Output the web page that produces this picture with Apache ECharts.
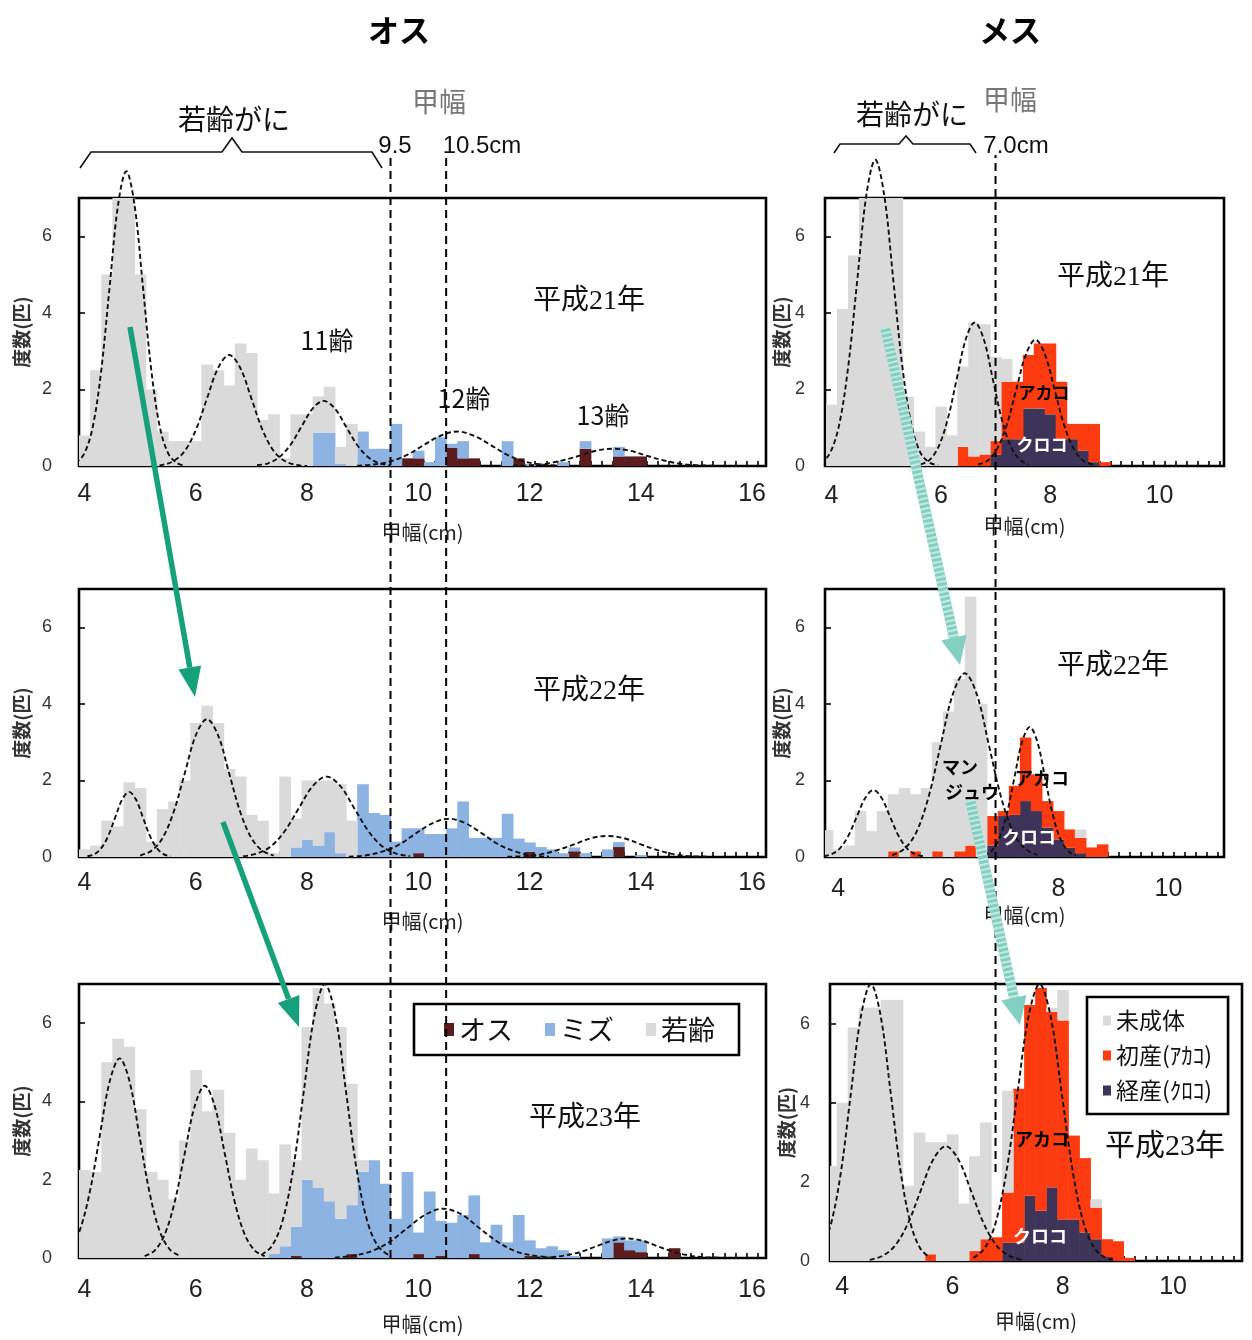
<!DOCTYPE html>
<html><head><meta charset="utf-8">
<script src="https://cdn.jsdelivr.net/npm/echarts@6.0.0/dist/echarts.min.js"></script>
<style>html,body{margin:0;padding:0;background:#fff;}#c{width:1252px;height:1340px;}</style>
</head><body><div id="c"></div>
<script>
// ---------------- DATA ----------------
const binsMale = [4.0,4.2,4.4,4.6,4.8,5.0,5.2,5.4,5.6,5.8,
  6.0,6.2,6.4,6.6,6.8,7.0,7.2,7.4,7.6,7.8,
  8.0,8.2,8.4,8.6,8.8,9.0,9.2,9.4,9.6,9.8,
  10.0,10.2,10.4,10.6,10.8,11.0,11.2,11.4,11.6,11.8,
  12.0,12.2,12.4,12.6,12.8,13.0,13.2,13.4,13.6,13.8,
  14.0,14.2,14.4,14.6,14.8,15.0,15.2,15.4,15.6,15.8,
  16.0,16.2];
const binsFemale = [3.8,4.0,4.2,4.4,4.6,4.8,5.0,5.2,5.4,5.6,
  5.8,6.0,6.2,6.4,6.6,6.8,7.0,7.2,7.4,7.6,
  7.8,8.0,8.2,8.4,8.6,8.8,9.0,9.2,9.4,9.6,
  9.8,10.0,10.2,10.4,10.6,10.8,11.0];
const maleXLabels = [4,6,8,10,12,14,16];
const femaleXLabels = [4,6,8,10];
const yLabels = [0,2,4,6];
const maleCutoffs = [9.5, 10.5];
const femaleCutoffs = [7.0];

// 平成21年 オス
const h21MaleJuv = [0.8,2.5,5.0,7.3,7.3,5.0,2.0,0.9,0.65,0.65,
  0.65,2.65,2.5,2.1,3.2,2.95,1.2,1.35,0.2,1.35,
  1.35,0.95,1.2,0.45,1.1,0,0,0,0,0,
  0,0,0,0,0,0,0,0,0,0,
  0,0,0,0,0,0,0,0,0,0,
  0,0,0,0,0,0,0,0,0,0,
  0,0];
const h21MaleMizu = [0,0,0,0,0,0,0,0,0,0,
  0,0,0,0,0,0,0,0,0,0,
  0,0.87,0.87,0.05,0,0.9,0.45,0.45,1.1,0,
  0.2,0.1,0.75,0.1,0.45,0,0,0,0.65,0,
  0.05,0,0,0.1,0,0.2,0,0,0.25,0,
  0,0,0,0,0,0,0,0,0,0,
  0,0];
const h21MaleOsu = [0,0,0,0,0,0,0,0,0,0,
  0,0,0,0,0,0,0,0,0,0,
  0,0,0,0,0,0,0,0,0,0.2,
  0.2,0,0,0.48,0.2,0.2,0,0,0,0.2,
  0,0,0,0,0,0.45,0,0,0.25,0.25,
  0.25,0,0,0,0,0,0,0,0,0,
  0,0];
// 平成22年 オス
const h22MaleJuv = [0.2,0.3,0.95,0.8,1.95,1.8,0.4,1.25,1.45,2.0,
  3.5,3.95,3.5,2.3,2.1,1.1,0.95,0.1,2.1,0.75,
  1.55,1.7,1.35,1.8,0.95,0,0,0,0,0,
  0,0,0,0,0,0,0,0,0,0,
  0,0,0,0,0,0,0,0,0,0,
  0,0,0,0,0,0,0,0,0,0,
  0,0];
const h22MaleMizu = [0,0,0,0,0,0,0,0,0,0,
  0,0,0,0,0,0,0,0,0,0.25,
  0.45,0.3,0.65,0.1,0,1.9,1.15,1.1,0.4,0.75,
  0.65,0.6,0.6,0.75,1.45,0.5,0.5,0.5,1.13,0.48,
  0.25,0.26,0.2,0.1,0.1,0.1,0,0.2,0.13,0,
  0.05,0,0,0,0,0,0,0,0,0,
  0,0];
const h22MaleOsu = [0,0,0,0,0,0,0,0,0,0,
  0,0,0,0,0,0,0,0,0,0,
  0,0,0,0,0,0,0,0,0,0,
  0.1,0,0,0,0,0,0,0,0,0,
  0.13,0,0,0,0.15,0,0,0,0.26,0,
  0,0,0,0,0,0,0,0,0,0,
  0,0];
// 平成23年 オス
const h23MaleJuv = [2.25,2.2,5.0,5.6,5.4,3.8,2.2,2.0,1.5,3.0,
  4.8,3.75,4.3,3.2,2.0,2.8,2.5,1.55,2.6,1.7,
  3.9,5.1,5.05,4.9,3.1,0.3,0,0,0,0,
  0,0,0,0,0,0,0,0,0,0,
  0,0,0,0,0,0,0,0,0,0,
  0,0,0,0,0,0,0,0,0,0,
  0,0];
const h23MaleMizu = [0,0,0,0,0,0,0,0,0,0,
  0,0,0,0,0,0,0,0.1,0.3,0.75,
  2.0,1.8,1.45,1.0,1.25,2.2,2.5,1.9,1.0,2.2,
  0.55,1.7,0.9,0.9,1.1,1.5,0.4,0.85,0.4,1.1,
  0.4,0.25,0.3,0.2,0.05,0,0,0.5,0.15,0.25,
  0.3,0,0,0,0,0,0,0,0,0,
  0,0];
const h23MaleOsu = [0,0,0,0,0,0,0,0,0,0,
  0,0,0,0,0,0,0,0,0,0.05,
  0,0,0,0,0.1,0,0,0,0,0,
  0.1,0,0.05,0,0,0.1,0,0,0,0,
  0.05,0,0,0,0,0,0,0,0.4,0.2,
  0.15,0,0,0.25,0,0,0,0,0,0,
  0,0];

// 平成21年 メス
const h21FemImm = [0,1.6,4.1,5.5,7.3,7.3,7.3,7.3,1.8,0.9,
  0.5,1.55,0.8,2.1,3.5,3.4,2.2,0.6,0,0,
  0,0,0,0,0,0,0,0,0,0,
  0,0,0,0,0,0,0];
const h21FemAka = [0,0,0,0,0,0,0,0,0,0,
  0,0,0,0.5,0.25,0.3,0.35,1.5,1.5,1.4,
  1.7,1.85,1.5,0.4,0.7,1.0,0.1,0,0,0,
  0,0,0,0,0,0,0];
const h21FemKuro = [0,0,0,0,0,0,0,0,0,0,
  0,0,0,0,0,0,0.3,0.7,0.7,1.5,
  1.5,1.35,0.7,0.7,0.4,0.1,0,0,0,0,
  0,0,0,0,0,0,0];
// 平成22年 メス
const h22FemImm = [0.7,0.2,0.3,1.2,0.68,1.2,1.49,1.8,1.49,1.8,
  2.85,3.8,4.5,6.5,4.0,0,0,0,0,0,
  0,0,0,0.22,0,0,0,0,0,0,
  0,0,0,0,0,0,0];
const h22FemAka = [0,0,0,0,0,0,0.15,0,0.15,0,
  0.15,0,0.15,0.3,0,0.77,0.13,0.76,1.66,0.96,
  0.69,0.74,0.48,0.4,0.25,0.33,0,0,0,0,
  0,0,0,0,0,0,0];
const h22FemKuro = [0,0,0,0,0,0,0,0,0,0,
  0,0,0,0,0,0.3,1.07,1.1,1.46,1.2,
  0.77,0.46,0.24,0.1,0,0,0,0,0,0,
  0,0,0,0,0,0,0];
// 平成23年 メス
const h23FemImm = [2.4,4.0,5.9,6.4,6.4,6.6,6.6,1.9,3.25,2.83,
  3.0,3.2,1.45,2.4,2.95,0,2.57,0,0,0,
  0.1,0.77,0,0,0.21,0,0,0,0,0,
  0,0,0,0,0,0,0];
const h23FemAka = [0,0,0,0,0,0,0,0,0,0.17,
  0,0,0,0.25,0.55,0.6,1.27,3.89,4.82,5.63,
  4.44,5.03,2.12,1.88,0.8,0.45,0.5,0.08,0,0,
  0,0,0,0,0,0,0];
const h23FemKuro = [0,0,0,0,0,0,0,0,0,0,
  0,0,0,0,0,0,0.46,0.46,1.65,1.27,
  1.86,1.05,1.05,0.72,0.55,0.1,0,0,0,0,
  0,0,0,0,0,0,0];

// fitted age-group curves [甲幅, 度数]
const h21MaleCurves = [
  [[3.7,0.01],[3.85,0.09],[4.0,0.34],[4.15,1.04],[4.3,2.5],[4.45,4.67],[4.6,6.8],[4.75,7.7],[4.9,6.8],[5.05,4.67],[5.2,2.5],[5.35,1.04],[5.5,0.34],[5.65,0.09],[5.8,0.01]],
  [[5.2,0.0],[5.4,0.03],[5.6,0.13],[5.8,0.39],[6.0,0.94],[6.2,1.76],[6.4,2.56],[6.6,2.9],[6.8,2.56],[7.0,1.76],[7.2,0.94],[7.4,0.39],[7.6,0.13],[7.8,0.03],[8.0,0.0]],
  [[7.1,0.02],[7.3,0.07],[7.5,0.23],[7.7,0.55],[7.9,1.03],[8.1,1.5],[8.3,1.7],[8.5,1.5],[8.7,1.03],[8.9,0.55],[9.1,0.23],[9.3,0.07],[9.5,0.02]],
  [[8.9,0.01],[9.2,0.04],[9.5,0.12],[9.8,0.29],[10.1,0.55],[10.4,0.79],[10.7,0.9],[11.0,0.79],[11.3,0.55],[11.6,0.29],[11.9,0.12],[12.2,0.04],[12.5,0.01]],
  [[11.7,0.01],[12.0,0.02],[12.3,0.06],[12.6,0.15],[12.9,0.27],[13.2,0.4],[13.5,0.45],[13.8,0.4],[14.1,0.27],[14.4,0.15],[14.7,0.06],[15.0,0.02],[15.3,0.01]]
];
const h22MaleCurves = [
  [[4.05,0.02],[4.175,0.07],[4.3,0.23],[4.425,0.55],[4.55,1.03],[4.675,1.5],[4.8,1.7],[4.925,1.5],[5.05,1.03],[5.175,0.55],[5.3,0.23],[5.425,0.07],[5.55,0.02]],
  [[5.0,0.04],[5.2,0.16],[5.4,0.49],[5.6,1.17],[5.8,2.18],[6.0,3.18],[6.2,3.6],[6.4,3.18],[6.6,2.18],[6.8,1.17],[7.0,0.49],[7.2,0.16],[7.4,0.04]],
  [[6.85,0.02],[7.1,0.09],[7.35,0.28],[7.6,0.68],[7.85,1.27],[8.1,1.85],[8.35,2.1],[8.6,1.85],[8.85,1.27],[9.1,0.68],[9.35,0.28],[9.6,0.09],[9.85,0.02]],
  [[8.75,0.01],[9.05,0.04],[9.35,0.14],[9.65,0.32],[9.95,0.61],[10.25,0.88],[10.55,1.0],[10.85,0.88],[11.15,0.61],[11.45,0.32],[11.75,0.14],[12.05,0.04],[12.35,0.01]],
  [[11.6,0.01],[11.9,0.02],[12.2,0.07],[12.5,0.18],[12.8,0.33],[13.1,0.49],[13.4,0.55],[13.7,0.49],[14.0,0.33],[14.3,0.18],[14.6,0.07],[14.9,0.02],[15.2,0.01]]
];
const h23MaleCurves = [
  [[3.55,0.06],[3.73,0.22],[3.91,0.69],[4.09,1.66],[4.27,3.09],[4.45,4.5],[4.63,5.1],[4.81,4.5],[4.99,3.09],[5.17,1.66],[5.35,0.69],[5.53,0.22],[5.71,0.06]],
  [[5.08,0.05],[5.26,0.19],[5.44,0.6],[5.62,1.43],[5.8,2.67],[5.98,3.88],[6.16,4.4],[6.34,3.88],[6.52,2.67],[6.7,1.43],[6.88,0.6],[7.06,0.19],[7.24,0.05]],
  [[7.18,0.08],[7.37,0.31],[7.56,0.95],[7.75,2.27],[7.94,4.25],[8.13,6.18],[8.32,7.0],[8.51,6.18],[8.7,4.25],[8.89,2.27],[9.08,0.95],[9.27,0.31],[9.46,0.08]],
  [[8.5,0.01],[8.83,0.06],[9.15,0.17],[9.48,0.41],[9.8,0.76],[10.13,1.11],[10.45,1.26],[10.78,1.11],[11.1,0.76],[11.43,0.41],[11.75,0.17],[12.08,0.06],[12.4,0.01]],
  [[12.1,0.01],[12.38,0.02],[12.65,0.07],[12.93,0.16],[13.2,0.3],[13.48,0.44],[13.75,0.5],[14.03,0.44],[14.3,0.3],[14.58,0.16],[14.85,0.07],[15.13,0.02],[15.4,0.01]]
];
const h21FemCurves = [
  [[3.65,0.02],[3.81,0.09],[3.975,0.35],[4.14,1.08],[4.305,2.6],[4.47,4.85],[4.635,7.06],[4.8,8.0],[4.965,7.06],[5.13,4.85],[5.295,2.6],[5.46,1.08],[5.625,0.35],[5.79,0.09],[5.95,0.02]],
  [[5.63,0.04],[5.795,0.16],[5.96,0.51],[6.125,1.22],[6.29,2.27],[6.455,3.31],[6.62,3.75],[6.785,3.31],[6.95,2.27],[7.115,1.22],[7.28,0.51],[7.445,0.16],[7.61,0.04]],
  [[6.68,0.04],[6.855,0.14],[7.03,0.45],[7.205,1.07],[7.38,2.0],[7.555,2.91],[7.73,3.3],[7.905,2.91],[8.08,2.0],[8.255,1.07],[8.43,0.45],[8.605,0.14],[8.78,0.04]]
];
const h22FemCurves = [
  [[3.74,0.02],[3.89,0.08],[4.04,0.24],[4.19,0.57],[4.34,1.06],[4.49,1.54],[4.64,1.75],[4.79,1.54],[4.94,1.06],[5.09,0.57],[5.24,0.24],[5.39,0.08],[5.54,0.02]],
  [[4.98,0.05],[5.2,0.21],[5.42,0.65],[5.64,1.56],[5.86,2.91],[6.08,4.24],[6.3,4.8],[6.52,4.24],[6.74,2.91],[6.96,1.56],[7.18,0.65],[7.4,0.21],[7.62,0.05]],
  [[6.64,0.04],[6.78,0.15],[6.92,0.46],[7.06,1.1],[7.2,2.06],[7.34,3.0],[7.48,3.4],[7.62,3.0],[7.76,2.06],[7.9,1.1],[8.04,0.46],[8.18,0.15],[8.32,0.04]]
];
const h23FemCurves = [
  [[3.44,0.08],[3.62,0.31],[3.8,0.95],[3.98,2.27],[4.16,4.25],[4.34,6.18],[4.52,7.0],[4.7,6.18],[4.88,4.25],[5.06,2.27],[5.24,0.95],[5.42,0.31],[5.6,0.08]],
  [[4.5,0.03],[4.73,0.13],[4.96,0.39],[5.19,0.94],[5.42,1.76],[5.65,2.56],[5.88,2.9],[6.11,2.56],[6.34,1.76],[6.57,0.94],[6.8,0.39],[7.03,0.13],[7.26,0.03]],
  [[6.38,0.08],[6.58,0.31],[6.78,0.95],[6.98,2.27],[7.18,4.25],[7.38,6.18],[7.58,7.0],[7.78,6.18],[7.98,4.25],[8.18,2.27],[8.38,0.95],[8.58,0.31],[8.78,0.08],[8.98,0.02]]
];

// ---------------- STYLE / LAYOUT ----------------
const COLORS = {osu:'#5b1c1e', mizu:'#8db3e2', juv:'#dadada', kuro:'#3e3459', aka:'#fd3b10', imm:'#dadada'};
const FONT = "'Liberation Sans','Noto Sans CJK JP',sans-serif";
const JP = "'Noto Sans CJK JP',sans-serif";
const SERIFJP = "'Liberation Serif','Noto Sans CJK JP',serif";

const panels = [
  {left:79, top:198, width:687, height:268, xmin:3.9, xmax:16.25, lm:16, ng:56, bins:binsMale, xl:maleXLabels,
   layers:[['オス',h21MaleOsu,'osu'],['ミズ',h21MaleMizu,'mizu'],['若齢',h21MaleJuv,'juv']], curves:h21MaleCurves, side:'L'},
  {left:79, top:589, width:687, height:268, xmin:3.9, xmax:16.25, lm:14, ng:54, bins:binsMale, xl:maleXLabels,
   layers:[['オス',h22MaleOsu,'osu'],['ミズ',h22MaleMizu,'mizu'],['若齢',h22MaleJuv,'juv']], curves:h22MaleCurves, side:'L'},
  {left:79, top:984, width:687, height:274, xmin:3.9, xmax:16.25, lm:20, ng:56, bins:binsMale, xl:maleXLabels,
   layers:[['オス',h23MaleOsu,'osu'],['ミズ',h23MaleMizu,'mizu'],['若齢',h23MaleJuv,'juv']], curves:h23MaleCurves, side:'L'},
  {left:825, top:198, width:399, height:268, xmin:3.88, xmax:11.18, lm:18, ng:50, bins:binsFemale, xl:femaleXLabels,
   layers:[['経産(ｸﾛｺ)',h21FemKuro,'kuro'],['初産(ｱｶｺ)',h21FemAka,'aka'],['未成体',h21FemImm,'imm']], curves:h21FemCurves, side:'R'},
  {left:825, top:589, width:399, height:268, xmin:3.76, xmax:11.01, lm:20, ng:48, bins:binsFemale, xl:femaleXLabels,
   layers:[['経産(ｸﾛｺ)',h22FemKuro,'kuro'],['初産(ｱｶｺ)',h22FemAka,'aka'],['未成体',h22FemImm,'imm']], curves:h22FemCurves, side:'R'},
  {left:830, top:984, width:412, height:277, xmin:3.78, xmax:11.25, lm:14, ng:50, bins:binsFemale, xl:femaleXLabels,
   layers:[['経産(ｸﾛｺ)',h23FemKuro,'kuro'],['初産(ｱｶｺ)',h23FemAka,'aka'],['未成体',h23FemImm,'imm']], curves:h23FemCurves, side:'R'}
];

function renderBar(params, api) {
  const x = api.value(0), y0 = api.value(1), y1 = api.value(2);
  if (!(y1 - y0 > 0)) return null;
  const half = api.value(3) / 2;
  const a = api.coord([x - half, y1]);
  const b = api.coord([x + half, y0]);
  const cs = params.coordSys;
  const shape = echarts.graphic.clipRectByRect(
    {x: a[0], y: a[1], width: b[0] - a[0] + 0.6, height: b[1] - a[1]},
    {x: cs.x, y: cs.y, width: cs.width, height: cs.height});
  if (!shape) return null;
  return {type: 'rect', shape: shape, style: {fill: api.visual('color')}};
}

const grids = [], xAxes = [], yAxes = [], series = [];
panels.forEach((p, gi) => {
  grids.push({left: p.left, top: p.top, width: p.width, height: p.height, show: true,
    borderColor: '#000', borderWidth: 2.6, backgroundColor: 'transparent', outerBoundsMode: 'none', containLabel: false});
  const bw = p.bins[1] - p.bins[0];
  const edges = p.bins.map(b => +(b - bw / 2).toFixed(2)).concat([+(p.bins[p.bins.length - 1] + bw / 2).toFixed(2)])
    .filter(e => e > p.xmin && e < p.xmax);
  xAxes.push({type: 'value', gridIndex: gi, min: p.xmin, max: p.xmax,
    axisLine: {show: false}, splitLine: {show: false},
    axisTick: {show: true, inside: true, length: 5, customValues: edges, lineStyle: {color: '#000', width: 1.6}},
    axisLabel: {customValues: p.xl, fontSize: 25, color: '#222', margin: p.lm, fontFamily: FONT},
    name: '甲幅(cm)', nameLocation: 'middle', nameGap: p.ng,
    nameTextStyle: {fontSize: 20, color: '#222', fontFamily: JP}});
  yAxes.push({type: 'value', gridIndex: gi, min: 0, max: 7,
    axisLine: {show: false}, splitLine: {show: false},
    axisTick: {show: true, inside: true, length: 6, customValues: yLabels, lineStyle: {color: '#000', width: 1.6}},
    axisLabel: {customValues: yLabels, fontSize: 18, color: '#333', margin: p.side === 'L' ? 27 : 20, fontFamily: FONT},
    name: '度数(匹)', nameLocation: 'middle', nameRotate: 90, nameGap: p.side === 'L' ? 46 : 32,
    nameTextStyle: {fontSize: 19, color: '#333', fontWeight: 'bold', fontFamily: JP}});
  const base = p.bins.map(() => 0);
  p.layers.forEach(([name, vals, ck]) => {
    const data = p.bins.map((x, i) => { const b0 = base[i]; const t = b0 + vals[i]; base[i] = t; return [x, b0, t, bw]; });
    series.push({type: 'custom', name: name, xAxisIndex: gi, yAxisIndex: gi, renderItem: renderBar,
      data: data, encode: {x: 0, y: 2}, itemStyle: {color: COLORS[ck]}, z: 2, silent: true});
  });
  p.curves.forEach(c => series.push({type: 'line', xAxisIndex: gi, yAxisIndex: gi, data: c,
    smooth: 0.35, symbol: 'none', showSymbol: false, clip: false, silent: true, z: 4,
    lineStyle: {color: '#111', width: 1.9, type: [5, 3]}}));
});

// overlay grids for the long dashed size cut-off lines
grids.push({left: 79, top: 155, width: 687, height: 1103, show: false, outerBoundsMode: 'none'});
xAxes.push({type: 'value', gridIndex: 6, min: 3.9, max: 16.25, show: false});
yAxes.push({type: 'value', gridIndex: 6, min: 0, max: 1, show: false});
grids.push({left: 825, top: 155, width: 399, height: 1017, show: false, outerBoundsMode: 'none'});
xAxes.push({type: 'value', gridIndex: 7, min: 3.88, max: 11.18, show: false});
yAxes.push({type: 'value', gridIndex: 7, min: 0, max: 1, show: false});
maleCutoffs.forEach(c => series.push({type: 'line', xAxisIndex: 6, yAxisIndex: 6, data: [[c, 0], [c, 1]],
  symbol: 'none', silent: true, z: 6, lineStyle: {color: '#000', width: 2, type: [8, 5]}}));
femaleCutoffs.forEach(c => series.push({type: 'line', xAxisIndex: 7, yAxisIndex: 7, data: [[c, 0], [c, 1]],
  symbol: 'none', silent: true, z: 6, lineStyle: {color: '#000', width: 2, type: [8, 5]}}));

// annotations
const T = (text, x, y, size, opt) => Object.assign({type: 'text', x: x, y: y, z: 50, silent: true,
  style: Object.assign({text: text, fontSize: size, fontFamily: JP, fill: '#111', align: 'center', verticalAlign: 'middle'}, opt || {})});
const graphics = [
  T('オス', 399, 30, 31, {fontWeight: 'bold', fill: '#000'}),
  T('メス', 1010, 30, 31, {fontWeight: 'bold', fill: '#000'}),
  T('若齢がに', 234, 119, 28),
  T('甲幅', 439, 102, 27, {fill: '#777'}),
  T('9.5', 395, 146, 24, {fontFamily: FONT}),
  T('10.5cm', 482, 146, 24, {fontFamily: FONT}),
  T('若齢がに', 912, 114, 28),
  T('甲幅', 1010, 100, 27, {fill: '#777'}),
  T('7.0cm', 1016, 146, 24, {fontFamily: FONT}),
  T('11齢', 327, 340, 25),
  T('12齢', 464, 398, 25),
  T('13齢', 603, 415, 25),
  T('平成21年', 589, 302, 28, {fontFamily: SERIFJP}),
  T('平成22年', 589, 692, 28, {fontFamily: SERIFJP}),
  T('平成23年', 585, 1119, 28, {fontFamily: SERIFJP}),
  T('平成21年', 1113, 278, 28, {fontFamily: SERIFJP}),
  T('平成22年', 1113, 667, 28, {fontFamily: SERIFJP}),
  T('平成23年', 1165, 1147, 30, {fontFamily: SERIFJP}),
  T('アカコ', 1044, 393, 17, {fontWeight: 'bold', fill: '#000'}),
  T('クロコ', 1042, 445, 17, {fontWeight: 'bold', fill: '#fff'}),
  T('マン', 960, 767, 18, {fontWeight: 'bold', fill: '#000'}),
  T('ジュウ', 972, 792, 18, {fontWeight: 'bold', fill: '#000'}),
  T('アカコ', 1042, 778, 18, {fontWeight: 'bold', fill: '#000'}),
  T('クロコ', 1029, 837, 18, {fontWeight: 'bold', fill: '#fff'}),
  T('アカコ', 1042, 1139, 18, {fontWeight: 'bold', fill: '#000'}),
  T('クロコ', 1040, 1236, 18, {fontWeight: 'bold', fill: '#fff'}),
  // braces
  {type: 'polyline', z: 50, silent: true, shape: {points: [[80,168],[91,152],[222,152],[232,138],[242,152],[372,152],[382,168]]},
   style: {stroke: '#111', lineWidth: 1.6, fill: null}},
  {type: 'polyline', z: 50, silent: true, shape: {points: [[834,153],[840,144],[899,144],[906,136],[913,144],[970,144],[976,153]]},
   style: {stroke: '#111', lineWidth: 1.6, fill: null}},
  // green arrows (male)
  {type: 'line', z: 60, silent: true, shape: {x1: 130, y1: 327, x2: 189.8, y2: 667.5}, style: {stroke: '#16a07c', lineWidth: 5.5}},
  {type: 'polygon', z: 60, silent: true, shape: {points: [[195,697],[201.1,665.5],[178.5,669.4]]}, style: {fill: '#16a07c'}},
  {type: 'line', z: 60, silent: true, shape: {x1: 223, y1: 822, x2: 288.6, y2: 998.9}, style: {stroke: '#16a07c', lineWidth: 5.5}},
  {type: 'polygon', z: 60, silent: true, shape: {points: [[299,1027],[299.4,994.9],[277.8,1002.9]]}, style: {fill: '#16a07c'}},
  // hatched arrows (female)
  {type: 'line', z: 60, silent: true, shape: {x1: 885, y1: 327, x2: 953.9, y2: 637.7}, style: {stroke: '#83cfc2', lineWidth: 10}},
  {type: 'line', z: 61, silent: true, shape: {x1: 885, y1: 327, x2: 953.9, y2: 637.7}, style: {stroke: 'rgba(255,255,255,0.55)', lineWidth: 10, lineDash: [2, 3]}},
  {type: 'polygon', z: 60, silent: true, shape: {points: [[960,665],[966.6,634.8],[941.3,640.5]]}, style: {fill: '#83cfc2'}},
  {type: 'line', z: 60, silent: true, shape: {x1: 970, y1: 800, x2: 1013.9, y2: 997.7}, style: {stroke: '#83cfc2', lineWidth: 10}},
  {type: 'line', z: 61, silent: true, shape: {x1: 970, y1: 800, x2: 1013.9, y2: 997.7}, style: {stroke: 'rgba(255,255,255,0.55)', lineWidth: 10, lineDash: [2, 3]}},
  {type: 'polygon', z: 60, silent: true, shape: {points: [[1020,1025],[1026.6,994.9],[1001.2,1000.5]]}, style: {fill: '#83cfc2'}}
];

const option = {
  animation: false,
  backgroundColor: '#fff',
  textStyle: {fontFamily: FONT},
  grid: grids, xAxis: xAxes, yAxis: yAxes, series: series,
  legend: [
    {left: 414, top: 1004, orient: 'horizontal', selectedMode: false, icon: 'rect',
     itemWidth: 10, itemHeight: 13, itemGap: 32, padding: [12, 24, 12, 30],
     borderColor: '#000', borderWidth: 2.6, backgroundColor: 'transparent',
     textStyle: {fontSize: 27, color: '#111', fontFamily: JP},
     data: ['オス', 'ミズ', '若齢']},
    {left: 1087, top: 997, orient: 'vertical', selectedMode: false, icon: 'rect',
     itemWidth: 8, itemHeight: 10, itemGap: 12, padding: [12, 16, 12, 16],
     borderColor: '#000', borderWidth: 2.6, backgroundColor: 'transparent',
     textStyle: {fontSize: 23, color: '#111', fontFamily: JP},
     data: ['未成体', '初産(ｱｶｺ)', '経産(ｸﾛｺ)']}
  ],
  graphic: graphics
};
const chart = echarts.init(document.getElementById('c'), null, {renderer: 'canvas'});
chart.setOption(option);
</script></body></html>
